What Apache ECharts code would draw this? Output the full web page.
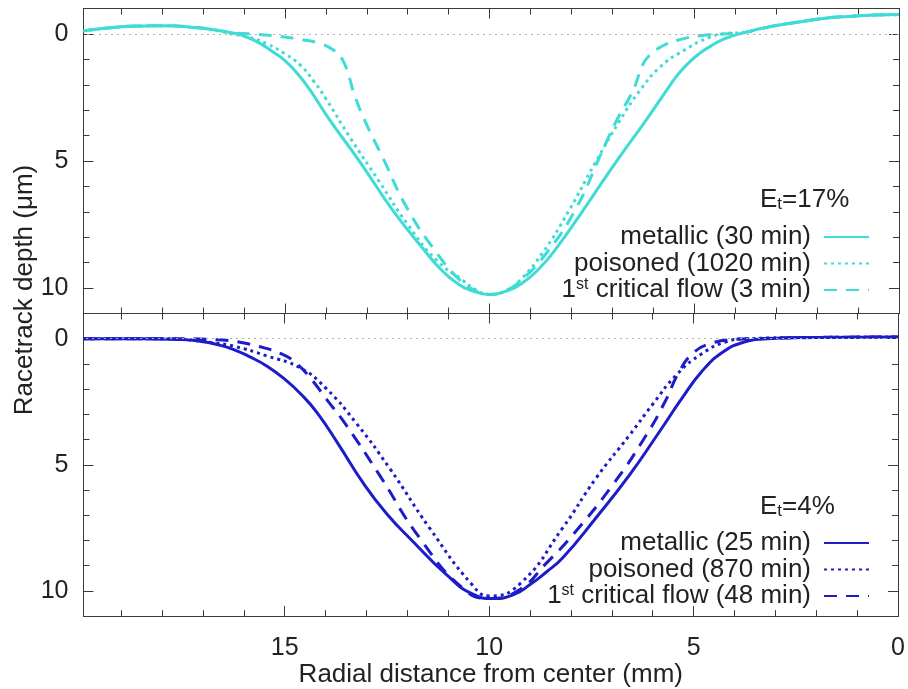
<!DOCTYPE html>
<html>
<head>
<meta charset="utf-8">
<script src="https://cdn.jsdelivr.net/npm/echarts@6/dist/echarts.min.js"></script>
<style>
  html, body { margin: 0; padding: 0; background: #fff; }
  #chart { width: 908px; height: 689px; }
</style>
</head>
<body>
<div id="chart"></div>
<script>
// Radial distance (mm) and racetrack depth (µm) pairs for each erosion profile.
const X_MAX = 19.92;

// E_t = 17 %
const top_metallic = [
  [19.92, -0.12], [19.4, -0.22], [18.8, -0.30], [18.0, -0.32], [17.2, -0.25], [16.6, -0.13],
  [16.4, -0.07], [16.17, 0.0], [15.9, 0.15], [15.6, 0.38], [15.3, 0.7], [15.0, 1.05],
  [14.7, 1.55], [14.41, 2.15], [13.92, 3.35], [13.14, 5.1], [12.36, 6.95], [11.6, 8.5],
  [11.2, 9.25], [10.8, 9.8], [10.4, 10.12], [10.0, 10.25], [9.6, 10.12], [9.2, 9.8],
  [8.8, 9.25], [8.4, 8.5], [7.72, 6.95], [6.94, 5.1], [6.16, 3.35], [5.67, 2.2],
  [5.45, 1.7], [5.19, 1.22], [4.9, 0.8], [4.62, 0.5], [4.35, 0.25], [4.05, 0.07],
  [3.8, -0.05], [3.4, -0.2], [3.0, -0.33], [2.4, -0.48], [1.8, -0.62], [1.2, -0.69],
  [0.6, -0.74], [0.0, -0.76]
];
const top_poisoned = [
  [19.92, -0.12], [19.4, -0.22], [18.8, -0.30], [18.0, -0.32], [17.2, -0.25], [16.6, -0.11],
  [16.3, 0.0], [15.9, 0.12], [15.44, 0.39], [15.0, 0.78], [14.63, 1.22], [14.3, 1.85],
  [14.0, 2.55], [13.4, 4.1], [12.7, 5.8], [12.0, 7.5], [11.3, 8.9], [10.65, 9.7],
  [10.3, 10.1], [10.0, 10.25], [9.6, 10.1], [9.26, 9.7], [8.7, 8.6], [8.08, 7.0],
  [7.43, 5.1], [6.82, 3.41], [6.33, 2.23], [5.84, 1.31], [5.27, 0.66], [4.62, 0.13],
  [4.2, -0.02], [3.8, -0.05], [3.4, -0.2], [3.0, -0.33], [2.4, -0.48], [1.8, -0.62],
  [1.2, -0.69], [0.6, -0.74], [0.0, -0.76]
];
const top_critical = [
  [19.92, -0.12], [19.4, -0.22], [18.8, -0.30], [18.0, -0.32], [17.2, -0.25], [16.6, -0.13],
  [16.2, -0.03], [15.8, 0.0], [15.2, 0.08], [14.6, 0.22], [14.1, 0.4], [13.8, 0.65],
  [13.6, 1.0], [13.45, 1.6], [13.3, 2.4], [13.05, 3.4], [12.6, 4.9], [12.0, 6.9],
  [11.3, 8.6], [10.75, 9.65], [10.35, 10.1], [10.0, 10.25], [9.6, 10.1], [9.2, 9.65],
  [8.6, 8.6], [7.9, 6.9], [7.3, 4.8], [6.9, 3.41], [6.5, 2.23], [6.25, 1.18],
  [6.1, 0.85], [5.84, 0.53], [5.43, 0.26], [4.86, 0.07], [4.3, 0.0], [3.8, -0.05],
  [3.4, -0.2], [3.0, -0.33], [2.4, -0.48], [1.8, -0.62], [1.2, -0.69], [0.6, -0.74], [0.0, -0.76]
];

// E_t = 4 %
const bottom_metallic = [
  [19.92, 0.0], [18.5, 0.0], [17.6, 0.03], [17.07, 0.1], [16.6, 0.25], [16.26, 0.42],
  [15.85, 0.72], [15.44, 1.08], [15.0, 1.6], [14.6, 2.2], [14.2, 2.95], [13.7, 4.15],
  [13.09, 5.7], [12.5, 6.95], [11.87, 8.03], [11.05, 9.35], [10.4, 10.13], [9.91, 10.3],
  [9.4, 10.15], [9.0, 9.75], [8.6, 9.25], [8.2, 8.69], [7.39, 7.11], [6.57, 5.41],
  [5.84, 3.7], [5.3, 2.4], [4.8, 1.3], [4.3, 0.55], [3.8, 0.15], [3.2, 0.0],
  [2.0, -0.05], [0.0, -0.07]
];
const bottom_poisoned = [
  [19.92, 0.0], [18.0, 0.0], [17.3, 0.05], [16.8, 0.15], [16.26, 0.29], [15.44, 0.68],
  [14.63, 1.15], [14.0, 1.95], [13.25, 3.35], [12.43, 5.15], [11.46, 7.5], [10.42, 9.75],
  [10.0, 10.2], [9.26, 9.74], [8.2, 7.5], [7.39, 5.54], [6.57, 3.83], [6.0, 2.6],
  [5.4, 1.4], [4.8, 0.6], [4.2, 0.12], [3.7, 0.0], [2.0, -0.05], [0.0, -0.07]
];
const bottom_critical = [
  [19.92, 0.0], [17.5, 0.0], [16.8, 0.03], [16.26, 0.1], [15.68, 0.29], [15.05, 0.62],
  [14.7, 1.0], [14.4, 1.5], [14.0, 2.35], [13.49, 3.44], [12.68, 5.41], [11.7, 7.9],
  [10.64, 9.9], [10.0, 10.3], [9.3, 10.0], [8.6, 8.9], [7.95, 7.77], [6.98, 5.8],
  [6.16, 3.83], [5.7, 2.5], [5.35, 1.3], [5.0, 0.55], [4.6, 0.2], [4.0, 0.03],
  [3.5, 0.0], [2.0, -0.05], [0.0, -0.07]
];

const topNames = ['metallic (30 min)', 'poisoned (1020 min)', '1st critical flow (3 min)'];
const bottomNames = ['metallic (25 min)', 'poisoned (870 min)', '1st critical flow (48 min)'];

const xMajorTicks = [0, 5, 10, 15];
const xMinorTicks = [1, 2, 3, 4, 6, 7, 8, 9, 11, 12, 13, 14, 16, 17, 18, 19];
const yMajorTicks = [0, 5, 10];
const yMinorTicks = [1, 2, 3, 4, 6, 7, 8, 9];

const CYAN = '#3edcd4';
const BLUE = '#1c1cc8';
const AXIS = '#3a3a3a';
const TEXT = '#222';
const FONT = '"Liberation Sans", Arial, sans-serif';

function xAxisDef(grid, position, ticks, len, labels, name) {
  return {
    type: 'value', gridIndex: grid, position: position,
    min: 0, max: X_MAX, inverse: true,
    axisLine: { show: true, onZero: false, lineStyle: { color: AXIS, width: 1 } },
    axisTick: { show: true, inside: true, length: len, customValues: ticks, lineStyle: { color: AXIS, width: 1 } },
    axisLabel: labels ? { show: true, customValues: ticks, margin: 20, fontSize: 25, fontFamily: FONT, color: TEXT } : { show: false },
    splitLine: { show: false },
    name: name || '', nameLocation: 'middle', nameGap: 40,
    nameTextStyle: { fontSize: 26, fontFamily: FONT, color: TEXT }
  };
}
function yAxisDef(grid, position, ticks, len, labels) {
  return {
    type: 'value', gridIndex: grid, position: position,
    min: -1, max: 11, inverse: true,
    axisLine: { show: true, onZero: false, lineStyle: { color: AXIS, width: 1 } },
    axisTick: { show: true, inside: true, length: len, customValues: ticks, lineStyle: { color: AXIS, width: 1 } },
    axisLabel: labels ? { show: true, customValues: ticks, margin: 15, fontSize: 25, fontFamily: FONT, color: TEXT } : { show: false },
    splitLine: { show: false }
  };
}

function lineSeries(name, data, color, kind, axisIndex, zeroLine) {
  const s = {
    name: name, type: 'line', data: data,
    xAxisIndex: axisIndex, yAxisIndex: axisIndex,
    symbol: 'none', smooth: 0.5,
    lineStyle: {
      color: color, width: 3,
      type: kind === 'solid' ? 'solid' : (kind === 'dotted' ? [3, 4] : [13, 9])
    },
    itemStyle: { color: color },
    z: kind === 'solid' ? 4 : 3
  };
  if (zeroLine) {
    s.markLine = {
      silent: true, symbol: ['none', 'none'], label: { show: false },
      lineStyle: { color: '#b0b0b0', width: 1, type: [2, 4] },
      data: [{ yAxis: 0 }]
    };
  }
  return s;
}

function legendDef(names, top) {
  return {
    data: names, orient: 'vertical', right: 38, top: top, align: 'right',
    itemWidth: 45, itemHeight: 14, itemGap: 0, padding: 0,
    selectedMode: false,
    itemStyle: { opacity: 0, color: 'rgba(0,0,0,0)', borderWidth: 0 },
    textStyle: {
      fontSize: 26, fontFamily: FONT, color: TEXT, lineHeight: 26.5, padding: [0, 8, 0, 0],
      rich: { sup: { fontSize: 16, fontFamily: FONT, color: TEXT, lineHeight: 14, verticalAlign: 'top' } }
    },
    formatter: function (n) { return n.replace(/^1st/, '1{sup|st}'); }
  };
}

const chart = echarts.init(document.getElementById('chart'), null, { renderer: 'canvas' });
chart.setOption({
  animation: false,
  backgroundColor: '#fff',
  grid: [
    { left: 83.5, width: 815.5, top: 8.5, height: 305 },
    { left: 83.5, width: 815.5, top: 313.5, height: 305 }
  ],
  xAxis: [
    xAxisDef(0, 'bottom', xMajorTicks, 10, false),
    xAxisDef(0, 'bottom', xMinorTicks, 6, false),
    xAxisDef(0, 'top', xMajorTicks, 10, false),
    xAxisDef(0, 'top', xMinorTicks, 6, false),
    xAxisDef(1, 'bottom', xMajorTicks, 10, true, 'Radial distance from center (mm)'),
    xAxisDef(1, 'bottom', xMinorTicks, 6, false),
    xAxisDef(1, 'top', xMajorTicks, 10, false),
    xAxisDef(1, 'top', xMinorTicks, 6, false)
  ],
  yAxis: [
    yAxisDef(0, 'left', yMajorTicks, 10, true),
    yAxisDef(0, 'left', yMinorTicks, 6, false),
    yAxisDef(0, 'right', yMajorTicks, 10, false),
    yAxisDef(0, 'right', yMinorTicks, 6, false),
    yAxisDef(1, 'left', yMajorTicks, 10, true),
    yAxisDef(1, 'left', yMinorTicks, 6, false),
    yAxisDef(1, 'right', yMajorTicks, 10, false),
    yAxisDef(1, 'right', yMinorTicks, 6, false)
  ],
  legend: [legendDef(topNames, 223.75), legendDef(bottomNames, 529.75)],
  graphic: [
    {
      type: 'text', x: 25, y: 290, rotation: Math.PI / 2,
      style: { text: 'Racetrack depth (μm)', font: '26px ' + FONT, fill: TEXT, textAlign: 'center', textVerticalAlign: 'middle' }
    },
    {
      type: 'text', x: 760, y: 200,
      style: {
        text: 'E{sub|t}=17%', font: '26px ' + FONT, fill: TEXT, textAlign: 'left', textVerticalAlign: 'middle',
        rich: { sub: { fontSize: 17, fontFamily: FONT, fill: TEXT, lineHeight: 14, verticalAlign: 'bottom' } }
      }
    },
    {
      type: 'text', x: 760, y: 507,
      style: {
        text: 'E{sub|t}=4%', font: '26px ' + FONT, fill: TEXT, textAlign: 'left', textVerticalAlign: 'middle',
        rich: { sub: { fontSize: 17, fontFamily: FONT, fill: TEXT, lineHeight: 14, verticalAlign: 'bottom' } }
      }
    }
  ],
  series: [
    lineSeries(topNames[0], top_metallic, CYAN, 'solid', 0, true),
    lineSeries(topNames[1], top_poisoned, CYAN, 'dotted', 0, false),
    lineSeries(topNames[2], top_critical, CYAN, 'dashed', 0, false),
    lineSeries(bottomNames[0], bottom_metallic, BLUE, 'solid', 4, true),
    lineSeries(bottomNames[1], bottom_poisoned, BLUE, 'dotted', 4, false),
    lineSeries(bottomNames[2], bottom_critical, BLUE, 'dashed', 4, false)
  ]
});
</script>
</body>
</html>
